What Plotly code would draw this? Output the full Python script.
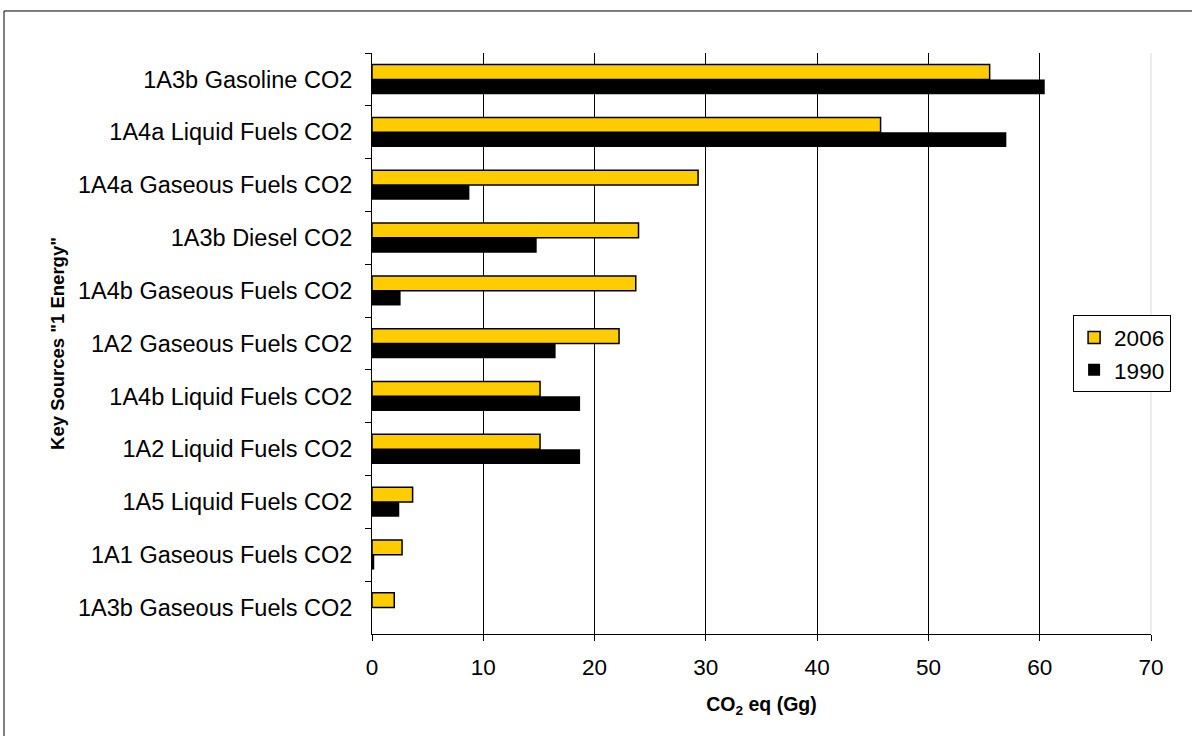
import plotly.graph_objects as go

categories = [
    "1A3b Gasoline CO2",
    "1A4a Liquid Fuels CO2",
    "1A4a Gaseous Fuels CO2",
    "1A3b Diesel CO2",
    "1A4b Gaseous Fuels CO2",
    "1A2 Gaseous Fuels CO2",
    "1A4b Liquid Fuels CO2",
    "1A2 Liquid Fuels CO2",
    "1A5 Liquid Fuels CO2",
    "1A1 Gaseous Fuels CO2",
    "1A3b Gaseous Fuels CO2",
]
values_2006 = [55.5, 45.7, 29.3, 23.95, 23.7, 22.2, 15.1, 15.1, 3.65, 2.7, 2.0]
values_1990 = [60.45, 57.0, 8.75, 14.8, 2.57, 16.5, 18.7, 18.7, 2.45, 0.2, 0.0]
x_ticks = [0, 10, 20, 30, 40, 50, 60, 70]

FONT = "Liberation Sans, Arial, sans-serif"
FS = 23.5

fig = go.Figure()
fig.add_trace(go.Bar(
    y=categories, x=values_2006, name="2006", orientation="h",
    marker=dict(color="#FFCC00", line=dict(color="#000000", width=1.5)),
))
fig.add_trace(go.Bar(
    y=categories, x=values_1990, name="1990", orientation="h",
    marker=dict(color="#000000", line=dict(color="#000000", width=0)),
))

fig.update_layout(
    width=1192, height=736,
    margin=dict(l=372, r=41, t=53, b=102),
    paper_bgcolor="white", plot_bgcolor="white",
    barmode="group", bargap=0.44, bargroupgap=0,
    font=dict(family=FONT, size=FS, color="black"),
    legend=dict(
        x=0.9, y=0.482, xanchor="left", yanchor="middle",
        bordercolor="black", borderwidth=1, bgcolor="white",
        font=dict(size=22.5, family=FONT), traceorder="normal",
        itemwidth=30, tracegroupgap=0,
    ),
    xaxis=dict(
        range=[0, 70], tickvals=x_ticks, showgrid=True, gridcolor="#000000", gridwidth=1,
        showline=True, linecolor="#000000", linewidth=1,
        ticks="outside", ticklen=6, tickcolor="#000000",
        tickfont=dict(size=22.5, family=FONT), ticklabelstandoff=7,
        zeroline=False,
        title=dict(text="<b>CO<sub>2</sub> eq (Gg)</b>", font=dict(size=19.5, family=FONT), standoff=18),
    ),
    yaxis=dict(
        categoryorder="array", categoryarray=categories, autorange="reversed",
        showline=True, linecolor="#000000", linewidth=1,
        ticks="outside", ticklen=6, tickcolor="#000000", tickson="boundaries",
        tickfont=dict(size=FS, family=FONT), showgrid=False,
        ticklabelstandoff=14,
        title=dict(text="<b>Key Sources \"1 Energy\"</b>", font=dict(size=18.5, family=FONT), standoff=8),
    ),
    shapes=[
        dict(type="line", xref="paper", yref="paper", x0=1, x1=1, y0=0, y1=1,
             line=dict(color="#D9D9D9", width=1)),
        dict(type="rect", xref="paper", yref="paper", x0=-0.4724, x1=1.06, y0=-0.2, y1=1.0723,
             line=dict(color="black", width=1), fillcolor="rgba(0,0,0,0)", layer="below"),
    ],
)

fig.write_html("out.html", post_script="document.body.style.margin='0';",
               config={"displayModeBar": False})
